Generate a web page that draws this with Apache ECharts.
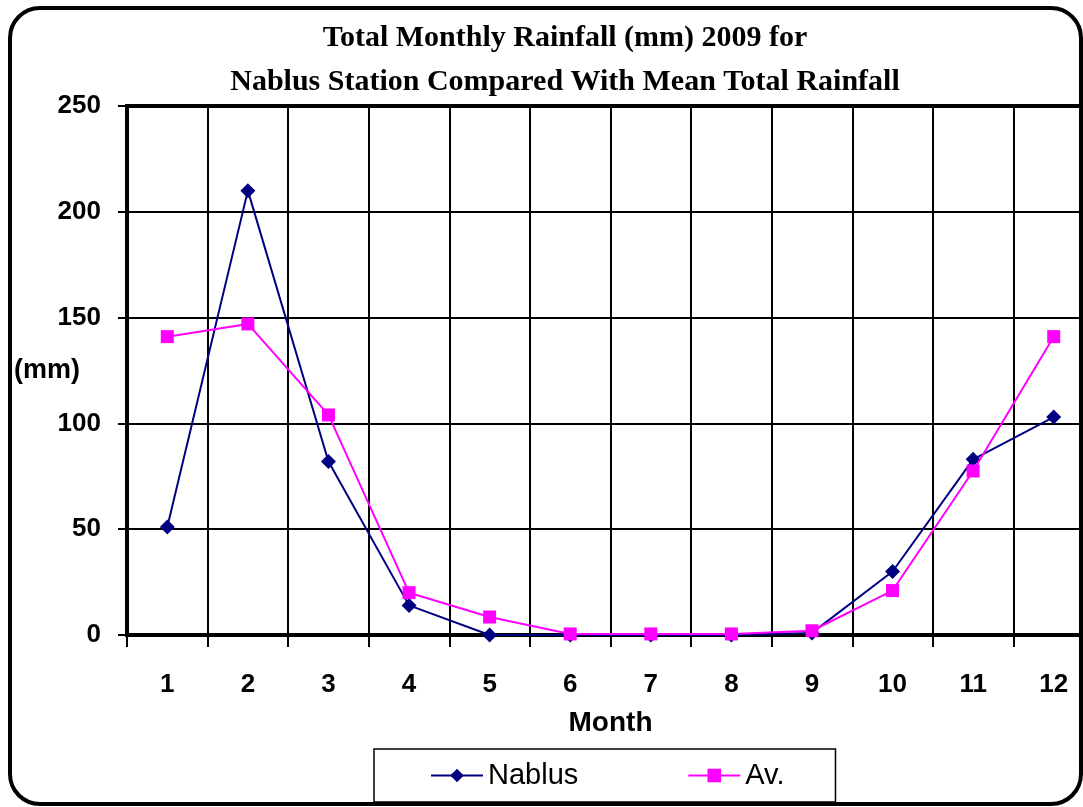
<!DOCTYPE html>
<html>
<head>
<meta charset="utf-8">
<script src="https://cdn.jsdelivr.net/npm/echarts@6/dist/echarts.min.js"></script>
<style>
html,body{margin:0;padding:0;background:#fff;}
#chart{width:1083px;height:807px;}
</style>
</head>
<body>
<div id="chart"></div>
<script>
const months = ['1','2','3','4','5','6','7','8','9','10','11','12'];
const nablus = [51, 210, 82, 14, 0, 0, 0, 0, 1, 30, 83, 103];
const average = [141, 147, 104, 20, 8.5, 0.5, 0.5, 0.5, 2, 21, 77.5, 141];
const yTicks = [0, 50, 100, 150, 200, 250];

const chart = echarts.init(document.getElementById('chart'), null, {renderer: 'canvas'});
chart.setOption({
  animation: false,
  backgroundColor: '#fff',
  title: {
    text: 'Total Monthly Rainfall (mm) 2009 for\nNablus Station Compared With Mean Total Rainfall',
    left: 560,
    top: 11,
    textAlign: 'center',
    textStyle: {
      fontFamily: 'Liberation Serif',
      fontWeight: 'bold',
      fontSize: 30,
      lineHeight: 44,
      color: '#000'
    }
  },
  graphic: [{
    type: 'rect',
    shape: {x: 10, y: 8, width: 1071, height: 796, r: 30},
    style: {fill: 'none', stroke: '#000', lineWidth: 4},
    z: 100
  }],
  legend: {
    left: 374,
    top: 749,
    padding: [12, 51, 12, 56],
    itemGap: 109,
    itemWidth: 52,
    itemHeight: 17,
    borderColor: '#000',
    borderWidth: 1.5,
    textStyle: {fontFamily: 'Liberation Sans', fontSize: 29, color: '#000'},
    data: ['Nablus', 'Av.']
  },
  grid: {
    left: 127, top: 106, width: 967, height: 529,
    outerBoundsMode: 'none',
    containLabel: false,
    show: true, borderColor: '#000', borderWidth: 4, backgroundColor: 'transparent'
  },
  xAxis: {
    type: 'category',
    data: months,
    boundaryGap: true,
    name: 'Month',
    nameLocation: 'middle',
    nameGap: 74,
    nameMoveOverlap: false,
    nameTextStyle: {fontFamily: 'Liberation Sans', fontWeight: 'bold', fontSize: 28, color: '#000'},
    axisLine: {lineStyle: {color: '#000', width: 4}},
    axisTick: {show: true, length: 12, lineStyle: {color: '#000', width: 2}},
    axisLabel: {margin: 37, fontFamily: 'Liberation Sans', fontWeight: 'bold', fontSize: 26, color: '#000'},
    splitLine: {show: true, lineStyle: {color: '#000', width: 2}}
  },
  yAxis: {
    type: 'value',
    min: yTicks[0],
    max: yTicks[yTicks.length - 1],
    interval: 50,
    name: '(mm)',
    nameLocation: 'middle',
    nameRotate: 0,
    nameGap: 47,
    nameMoveOverlap: false,
    nameTextStyle: {fontFamily: 'Liberation Sans', fontWeight: 'bold', fontSize: 27, color: '#000', align: 'right'},
    axisLine: {show: true, lineStyle: {color: '#000', width: 4}},
    axisTick: {show: true, length: 9, lineStyle: {color: '#000', width: 2}},
    axisLabel: {margin: 26, fontFamily: 'Liberation Sans', fontWeight: 'bold', fontSize: 26, color: '#000'},
    splitLine: {show: true, lineStyle: {color: '#000', width: 2}}
  },
  series: [{
    name: 'Nablus',
    type: 'line',
    data: nablus,
    symbol: 'diamond',
    symbolSize: 15,
    color: '#000080',
    lineStyle: {color: '#000080', width: 2},
    itemStyle: {color: '#000080'},
    z: 3
  }, {
    name: 'Av.',
    type: 'line',
    data: average,
    symbol: 'rect',
    symbolSize: 13,
    color: '#FF00FF',
    lineStyle: {color: '#FF00FF', width: 2},
    itemStyle: {color: '#FF00FF'},
    z: 4
  }]
});
</script>
</body>
</html>
